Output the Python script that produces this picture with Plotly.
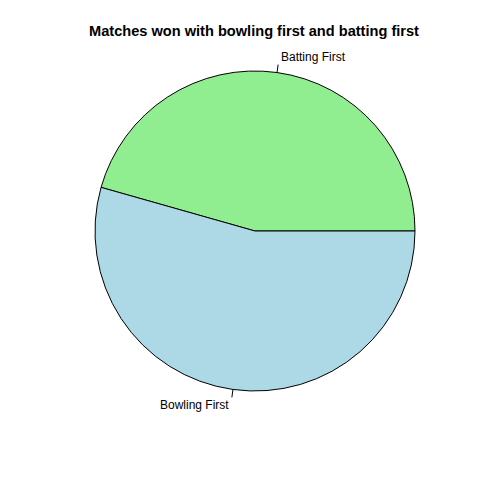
import math
import plotly.graph_objects as go

labels = ["Batting First", "Bowling First"]
values = [337, 402]
colors = ["#90EE90", "#ADD8E6"]
title = "Matches won with bowling first and batting first"

W, H = 480, 480
cx, cy, r = 255, 231, 160  # pixel geometry of pie

total = sum(values)
# Plotly's counterclockwise pie places the first slice so it ends at `rotation`;
# shift so the first slice starts at 3 o'clock like R's pie().
rot = 90 - 360.0 * values[0] / total

fig = go.Figure()
fig.add_trace(go.Pie(
    labels=labels, values=values, sort=False,
    direction="counterclockwise", rotation=rot,
    marker=dict(colors=colors, line=dict(color="black", width=1)),
    textinfo="none", hoverinfo="label+value", showlegend=False,
    domain=dict(x=[(cx - r) / W, (cx + r) / W], y=[(H - cy - r) / H, (H - cy + r) / H]),
))

start = 0.0
shapes, annotations = [], []
for lab, v in zip(labels, values):
    frac = v / total
    mid = 2 * math.pi * (start + frac / 2)
    start += frac
    c, s = math.cos(mid), math.sin(mid)
    x1, y1 = cx + r * c, cy - r * s
    x2, y2 = cx + 1.05 * r * c, cy - 1.05 * r * s
    shapes.append(dict(type="line", xref="paper", yref="paper",
                       x0=x1 / W, y0=1 - y1 / H, x1=x2 / W, y1=1 - y2 / H,
                       line=dict(color="black", width=1)))
    tx, ty = cx + 1.1 * r * c, cy - 1.1 * r * s
    annotations.append(dict(text=lab, xref="paper", yref="paper",
                            x=tx / W, y=1 - ty / H, showarrow=False,
                            xanchor="left" if c >= 0 else "right", yanchor="middle",
                            font=dict(family="Liberation Sans, Arial", size=12, color="black")))

annotations.append(dict(text="<b>" + title + "</b>", xref="paper", yref="paper",
                        x=254 / W, y=1 - 31 / H, showarrow=False, xanchor="center", yanchor="middle",
                        font=dict(family="Liberation Sans, Arial", size=14.6, color="black")))

fig.update_layout(width=W, height=H, margin=dict(l=0, r=0, t=0, b=0),
                  paper_bgcolor="white", plot_bgcolor="white",
                  shapes=shapes, annotations=annotations)
fig.write_html("out.html")
